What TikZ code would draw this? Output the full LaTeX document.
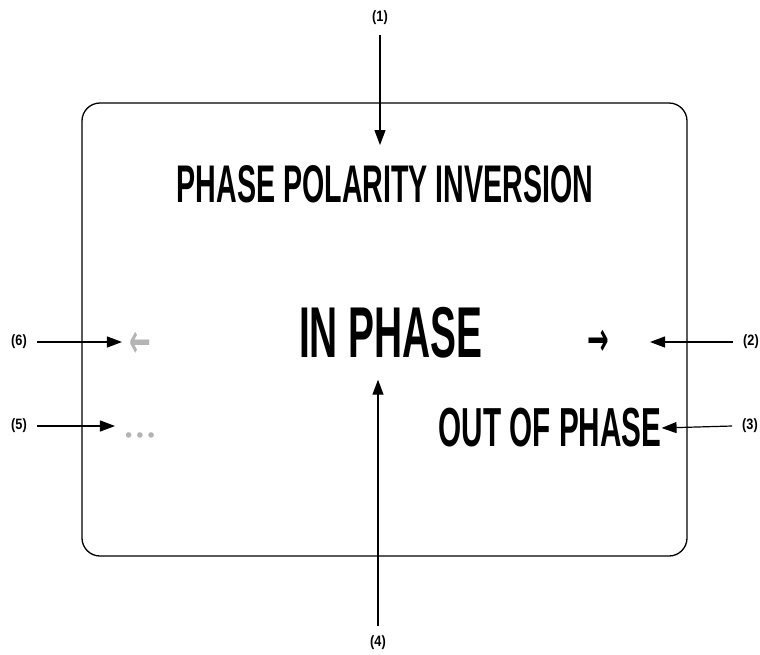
\documentclass[tikz,border=0pt]{standalone}
\usepackage{fontspec}
\setmainfont{Liberation Sans}[FakeStretch=0.54]
\newfontfamily\lblfont{Liberation Sans}[FakeStretch=0.85]
\newfontfamily\symfont{DejaVu Sans}[FakeStretch=0.55]
\newfontfamily\dotfont{DejaVu Sans}
\usepackage{xcolor}
\usetikzlibrary{arrows.meta}

\definecolor{dimgrey}{RGB}{180,180,180}

\begin{document}
\begin{tikzpicture}[
    x=1pt, y=-1pt,
    screen/.style={draw, line width=1.3pt, rounded corners=18pt},
    bigtxt/.style={font=\fontsize{72}{80}\selectfont\bfseries, inner sep=0pt},
    headtxt/.style={font=\fontsize{53}{60}\selectfont\bfseries, inner sep=0pt},
    sidetxt/.style={font=\fontsize{55}{60}\selectfont\bfseries, inner sep=0pt},
    glyph/.style={font=\symfont\fontsize{47}{50}\selectfont\bfseries, inner sep=0pt},
    dotrow/.style={font=\dotfont\fontsize{19}{22}\selectfont, inner sep=0pt, text=dimgrey},
    callout/.style={font=\lblfont\fontsize{15}{17}\selectfont\bfseries, inner sep=0pt, outer sep=10pt},
    arr/.style={-{Triangle[length=15pt, width=11pt]}, line width=1.2pt}
]
\useasboundingbox (0,0) rectangle (760,654);

% display frame
\draw[screen] (82,103) rectangle (687,556);

% display contents
\node[headtxt] (title)   at (385,184) {PHASE POLARITY INVERSION};
\node[bigtxt]  (inphase) at (391,333) {IN PHASE};
\node[sidetxt] (outph)   at (550,428) {OUT OF PHASE};
\node[glyph, text=dimgrey] (larr) at (140,345) {←};
\node[glyph]               (rarr) at (598,343) {→};
\node[dotrow]              (dots) at (140,438) {•••};

% callout numbers
\node[callout] (c1) at (380,18)  {(1)};
\node[callout] (c2) at (751,342) {(2)};
\node[callout] (c3) at (750,426) {(3)};
\node[callout] (c4) at (378,643) {(4)};
\node[callout] (c5) at (19,426)  {(5)};
\node[callout] (c6) at (19,342)  {(6)};

% callout arrows
\draw[arr, shorten >=20pt] (c1.south) -- (c1.south |- title.north);
\draw[arr, shorten >=41pt] (c2) -- (c2 -| rarr.east);
\draw[arr] (c3.west) -- (outph.east);
\draw[arr, shorten >=21pt] (c4.north) -- (c4.north |- inphase.south);
\draw[arr, shorten >=8pt]  (c5) -- (c5 -| dots.west);
\draw[arr, shorten >=7pt]  (c6) -- (c6 -| larr.west);

\end{tikzpicture}
\end{document}
